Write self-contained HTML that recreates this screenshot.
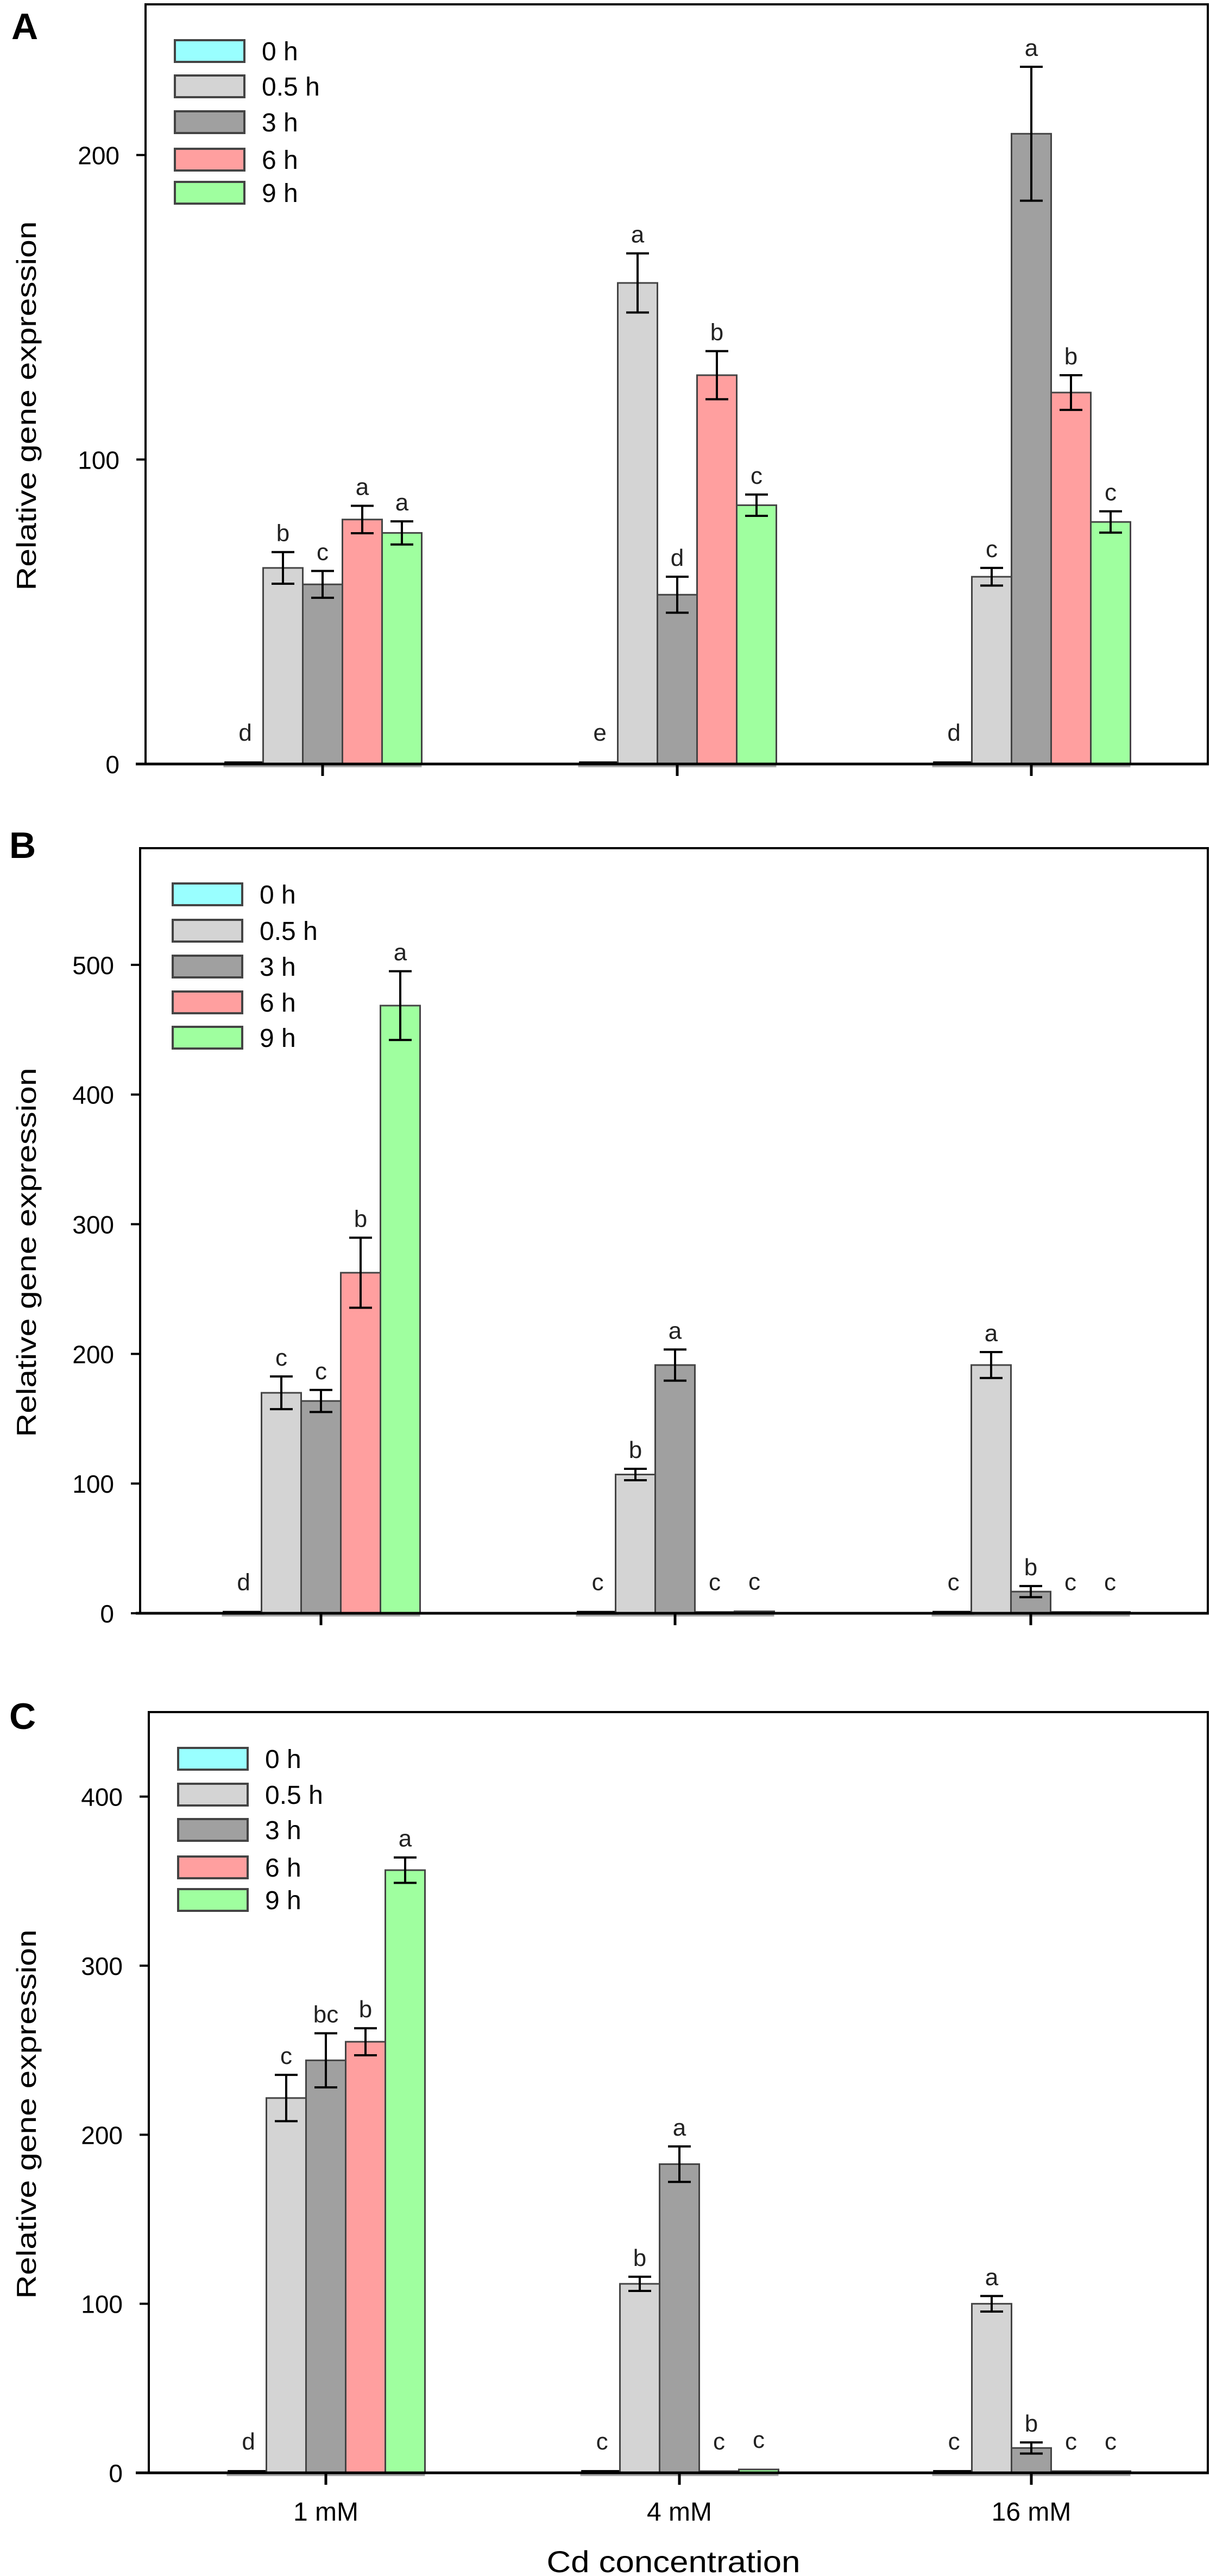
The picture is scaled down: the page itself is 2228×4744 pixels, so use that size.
<!DOCTYPE html>
<html><head><meta charset="utf-8"><style>
html,body{margin:0;padding:0;background:#fff;}
svg{display:block;font-family:"Liberation Sans",sans-serif;}
</style></head><body>
<svg id="chart" width="2228" height="4744" viewBox="0 0 2228 4744" xmlns="http://www.w3.org/2000/svg"></svg>
<script>
const series = ["0 h","0.5 h","3 h","6 h","9 h"];
const categories = ["1 mM","4 mM","16 mM"];
const colors = ["#99ffff","#d4d4d4","#a0a0a0","#ff9f9f","#9fff9f"];
// Panel A
const valuesA = [[0.5,64.4,59,80.3,75.9],[0.5,158,55.6,127.7,85],[0.5,61.5,207,122,79.5]];
const errorsA = [[0,5.2,4.4,4.5,3.8],[0,9.7,5.9,7.9,3.5],[0,2.9,22,5.7,3.5]];
const lettersA = [["d","b","c","a","a"],["e","a","d","b","c"],["d","c","a","b","c"]];
const ticksA = [0,100,200];
// Panel B
const valuesB = [[1,170,163.7,262.6,468.6],[1,107,191.4,1,1.5],[1,191.4,16.7,1,1]];
const errorsB = [[0,12.6,8.5,27,26.5],[0,4.4,12,0,0],[0,10,4.3,0,0]];
const lettersB = [["d","c","c","b","a"],["c","b","a","c","c"],["c","a","b","c","c"]];
const ticksB = [0,100,200,300,400,500];
// Panel C
const valuesC = [[1,221.7,244,255,356.5],[1,111.8,182.6,1,2],[1,100,14.7,1,1]];
const errorsC = [[0,13.7,16,8,7.5],[0,4.2,10.5,0,0],[0,4.6,3.3,0,0]];
const lettersC = [["d","c","bc","b","a"],["c","b","a","c","c"],["c","a","b","c","c"]];
const ticksC = [0,100,200,300,400];

const NS="http://www.w3.org/2000/svg";
const svg=document.getElementById('chart');
function mk(tag,attrs,parent){const e=document.createElementNS(NS,tag);for(const k in attrs)e.setAttribute(k,attrs[k]);(parent||svg).appendChild(e);return e;}

const panels=[
 {id:"a",label:"A",lx:21,ly:72,left:268,right:2224,top:8,bottom:1407,ymax:249.5,centers:[594,1247,1899],vals:valuesA,errs:errorsA,lets:lettersA,ticks:ticksA,leg:{x:322,ys:[74,139,205,274,335]},xlab:false},
 {id:"b",label:"B",lx:17,ly:1580,left:258,right:2224,top:1562,bottom:2971,ymax:590,centers:[591,1243,1898],vals:valuesB,errs:errorsB,lets:lettersB,ticks:ticksB,leg:{x:318,ys:[1627,1694,1760,1826,1891]},xlab:false},
 {id:"c",label:"C",lx:17,ly:3184,left:274,right:2224,top:3153,bottom:4554,ymax:450,centers:[600,1251,1899],vals:valuesC,errs:errorsC,lets:lettersC,ticks:ticksC,leg:{x:328,ys:[3219,3285,3350,3419,3479]},xlab:true}
];
const BW=73;
panels.forEach(p=>{
  const g=mk('g',{});
  
  
  const yS=v=>p.bottom-(v/p.ymax)*(p.bottom-p.top);
  const pl=mk('text',{x:p.lx,y:p.ly,'font-size':68,'font-weight':'bold',fill:'#000'},g);
  pl.textContent=p.label;
  
  
  // y-axis title
  const cy=(p.top+p.bottom)/2+40;
  const yt=mk('text',{x:0,y:0,'font-size':50,fill:'#000','text-anchor':'middle',transform:`translate(66,${cy}) rotate(-90)`,textLength:680,lengthAdjust:'spacingAndGlyphs'},g);
  yt.textContent="Relative gene expression";
  
  
  // bars
  p.centers.forEach((c,ci)=>{
    mk('rect',{x:c-2.5*BW,y:p.bottom+1,width:5*BW,height:5,fill:'#a8a8a8'},g);
    series.forEach((s,si)=>{
      const v=p.vals[ci][si], e=p.errs[ci][si];
      const x=c+(si-2)*BW-BW/2+ (si===0?BW*0.05:0);
      const y=yS(v);
      const b=mk('rect',{x:x,y:y,width:BW,height:Math.max(p.bottom-y,3),fill:colors[si],stroke:si===0?'#000':'#444','stroke-width':si===0?4:3},g);
      
      
      let topY=y;
      if(e>0){
        const yh=yS(v+e), yl=yS(v-e), xm=x+BW/2;
        mk('line',{x1:xm,x2:xm,y1:yh,y2:yl,stroke:'#000','stroke-width':4},g);
        mk('line',{x1:xm-21,x2:xm+21,y1:yh,y2:yh,stroke:'#000','stroke-width':4},g);
        mk('line',{x1:xm-21,x2:xm+21,y1:yl,y2:yl,stroke:'#000','stroke-width':4},g);
        topY=yh;
      }
      const t=mk('text',{x:x+BW/2,y:topY-(v<3?40:20),'font-size':44,fill:'#222','text-anchor':'middle'},g);
      t.textContent=p.lets[ci][si];
      
      
    });
    mk('line',{x1:c,x2:c,y1:p.bottom,y2:p.bottom+22,stroke:'#000','stroke-width':5},g);
    if(p.xlab){
      const xl=mk('text',{x:c,y:4642,'font-size':48,fill:'#000','text-anchor':'middle'},g);
      xl.textContent=categories[ci];
      
      
    }
  });
  // frame
  mk('path',{d:`M${p.left},${p.bottom} V${p.top} H${p.right} V${p.bottom}`,fill:'none',stroke:'#000','stroke-width':4},g);
  mk('line',{x1:250,x2:p.right+2,y1:p.bottom,y2:p.bottom,stroke:'#000','stroke-width':5},g);
  // y ticks
  p.ticks.forEach(tv=>{
    const y=yS(tv);
    mk('line',{x1:p.left-17,x2:p.left,y1:y,y2:y,stroke:'#000','stroke-width':4},g);
    const tl=mk('text',{x:p.left-48,y:y+17,'font-size':46,fill:'#000','text-anchor':'end'},g);
    tl.textContent=tv;
    
    
  });
  // legend
  series.forEach((s,si)=>{
    const ly=p.leg.ys[si];
    const r=mk('rect',{x:p.leg.x,y:ly,width:128,height:40,fill:colors[si],stroke:'#444','stroke-width':4},g);
    
    
    const lt=mk('text',{x:p.leg.x+160,y:ly+37,'font-size':48,fill:'#000'},g);
    lt.textContent=s;
    
    
  });
});
const xt=mk('text',{x:1240,y:4737,'font-size':56,fill:'#000','text-anchor':'middle',textLength:467,lengthAdjust:'spacingAndGlyphs'});
xt.textContent="Cd concentration";


</script>
</body></html>
